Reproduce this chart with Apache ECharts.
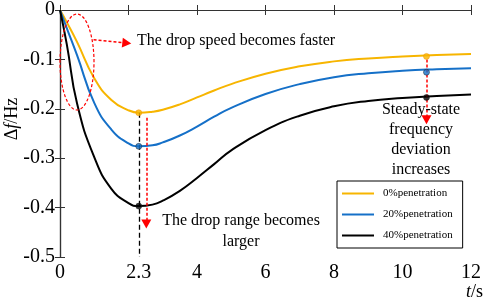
<!DOCTYPE html>
<html>
<head>
<meta charset="utf-8">
<script src="https://cdn.jsdelivr.net/npm/echarts@6/dist/echarts.min.js"></script>
<style>html,body{margin:0;padding:0;background:#fff}#main{width:484px;height:301px}</style>
</head>
<body>
<div id="main"></div>
<script>
// time axis (s) and frequency deviation (Hz)
var times  = [0, 0.2, 0.5, 1, 1.5, 2, 2.3, 2.7, 3, 3.5, 4, 4.5, 5, 6, 7, 8, 9, 10, 11, 12];
var pen0   = [0, -0.025, -0.065, -0.138, -0.182, -0.203, -0.208, -0.206, -0.202, -0.191, -0.177, -0.163, -0.150, -0.129, -0.114, -0.104, -0.098, -0.094, -0.091, -0.089];
var pen20  = [0, -0.037, -0.092, -0.188, -0.242, -0.270, -0.276, -0.274, -0.268, -0.254, -0.236, -0.216, -0.198, -0.170, -0.150, -0.136, -0.128, -0.123, -0.120, -0.118];
var pen40  = [0, -0.070, -0.190, -0.298, -0.362, -0.391, -0.397, -0.394, -0.386, -0.366, -0.340, -0.312, -0.284, -0.243, -0.214, -0.195, -0.184, -0.178, -0.174, -0.171];
var seriesNames = ['0%penetration', '20%penetration', '40%penetration'];
var colors = ['#F7B500', '#1570C8', '#000000'];
var xLabels = [0, 2.3, 4, 6, 8, 10, 12];
var xTicks  = [0, 2, 4, 6, 8, 10, 12];
var peakT = 2.3;
var peakVals = [-0.208, -0.276, -0.397];
var steadyT = 10.7;
var steadyVals = [-0.094, -0.126, -0.177];

var serif = '"Liberation Serif", "Times New Roman", serif';
var myChart = echarts.init(document.getElementById('main'));

function pairs(vals) {
    return times.map(function (t, i) { return [t, vals[i]]; });
}
var redLine = {color: '#FF0000', type: [3, 2], width: 1.5};

var allVals = [pen0, pen20, pen40];
var series = [];
for (var k = 0; k < 3; k++) {
    series.push({
        name: seriesNames[k],
        type: 'line',
        data: pairs(allVals[k]),
        smooth: true,
        showSymbol: false,
        color: colors[k],
        lineStyle: {width: 2, color: colors[k]},
        z: 3
    });
}
// dots at the nadir and at steady state
for (var k = 0; k < 3; k++) {
    series.push({
        type: 'scatter',
        data: [[peakT, peakVals[k]], [steadyT, steadyVals[k]]],
        symbolSize: 6,
        itemStyle: {color: colors[k], borderColor: k == 0 ? '#F29000' : '#222', borderWidth: 0.6},
        z: 5
    });
}
series[2].markLine = {
    silent: true,
    animation: false,
    label: {show: false},
    symbol: ['none', 'none'],
    data: [
        [{coord: [peakT, peakVals[0]], lineStyle: {color: '#000', type: [5, 3], width: 1.3}}, {coord: [peakT, -0.5]}],
        [{coord: [0.98, -0.06], symbol: 'none', lineStyle: redLine}, {coord: [1.95, -0.067], symbol: 'triangle', symbolSize: [10, 9]}],
        [{coord: [2.52, -0.218], symbol: 'none', lineStyle: redLine}, {coord: [2.52, -0.433], symbol: 'triangle', symbolSize: [10, 9]}],
        [{coord: [steadyT, -0.1], symbol: 'none', lineStyle: redLine}, {coord: [steadyT, -0.222], symbol: 'triangle', symbolSize: [10, 9]}]
    ]
};

var tickStyle = {inside: true, length: 5, lineStyle: {color: '#333'}};
var lineStyleAxis = {lineStyle: {color: '#333', width: 1.2}};

option = {
    animation: false,
    grid: {left: 60, right: 9, top: 7, bottom: 44},
    xAxis: [{
        type: 'value', min: 0, max: 12, interval: 2,
        axisLine: lineStyleAxis,
        axisTick: Object.assign({customValues: xTicks}, tickStyle),
        axisLabel: {customValues: xLabels, color: '#000', fontFamily: serif, fontSize: 20, margin: 6},
        splitLine: {show: false}
    }, {
        type: 'value', min: 0, max: 12, interval: 2, position: 'top',
        axisLine: lineStyleAxis,
        axisTick: tickStyle,
        axisLabel: {show: false},
        splitLine: {show: false}
    }],
    yAxis: [{
        type: 'value', min: -0.5, max: 0, interval: 0.1,
        axisLine: lineStyleAxis,
        axisTick: tickStyle,
        axisLabel: {color: '#000', fontFamily: serif, fontSize: 20, margin: 5,
            formatter: function (v) { return v === 0 ? '0' : v.toFixed(1); }},
        splitLine: {show: false}
    }, {
        type: 'value', min: -0.5, max: 0, interval: 0.1, position: 'right',
        axisLine: lineStyleAxis,
        axisTick: tickStyle,
        axisLabel: {show: false},
        splitLine: {show: false}
    }],
    legend: {
        data: seriesNames,
        orient: 'vertical',
        left: 337, top: 181,
        backgroundColor: '#fff',
        borderColor: '#000',
        borderWidth: 1,
        borderRadius: 0,
        padding: [7, 10, 7, 5],
        itemWidth: 32, itemHeight: 2, itemGap: 10,
        icon: 'rect',
        textStyle: {fontFamily: serif, fontSize: 11, color: '#000', padding: [0, 0, 0, 4]}
    },
    graphic: [
        {type: 'ellipse', shape: {cx: 77, cy: 62, rx: 17, ry: 48},
         style: {fill: 'none', stroke: '#FF0000', lineWidth: 1.2, lineDash: [3, 2]}, z: 10},
        {type: 'text', x: 137, y: 41, z: 10,
         style: {text: 'The drop speed becomes faster', font: '16px ' + serif, fill: '#000', verticalAlign: 'middle'}},
        {type: 'text', x: 241, y: 231, z: 10,
         style: {text: 'The drop range becomes\nlarger', font: '16px ' + serif, fill: '#000', align: 'center', verticalAlign: 'middle', lineHeight: 21}},
        {type: 'text', x: 421, y: 140, z: 10,
         style: {text: 'Steady-state\nfrequency\ndeviation\nincreases', font: '16px ' + serif, fill: '#000', align: 'center', verticalAlign: 'middle', lineHeight: 20}},
        {type: 'text', x: 12, y: 119, rotation: Math.PI / 2, z: 10,
         style: {text: '{a|Δ}{b|f}{a|/Hz}', align: 'center', verticalAlign: 'middle',
                 rich: {a: {font: '18px ' + serif, fill: '#000'}, b: {font: 'italic 18px ' + serif, fill: '#000'}}}},
        {type: 'text', x: 483, y: 292, z: 10,
         style: {text: '{b|t}{a|/s}', align: 'right', verticalAlign: 'middle',
                 rich: {a: {font: '18px ' + serif, fill: '#000'}, b: {font: 'italic 18px ' + serif, fill: '#000'}}}}
    ],
    series: series
};
myChart.setOption(option);
</script>
</body>
</html>
